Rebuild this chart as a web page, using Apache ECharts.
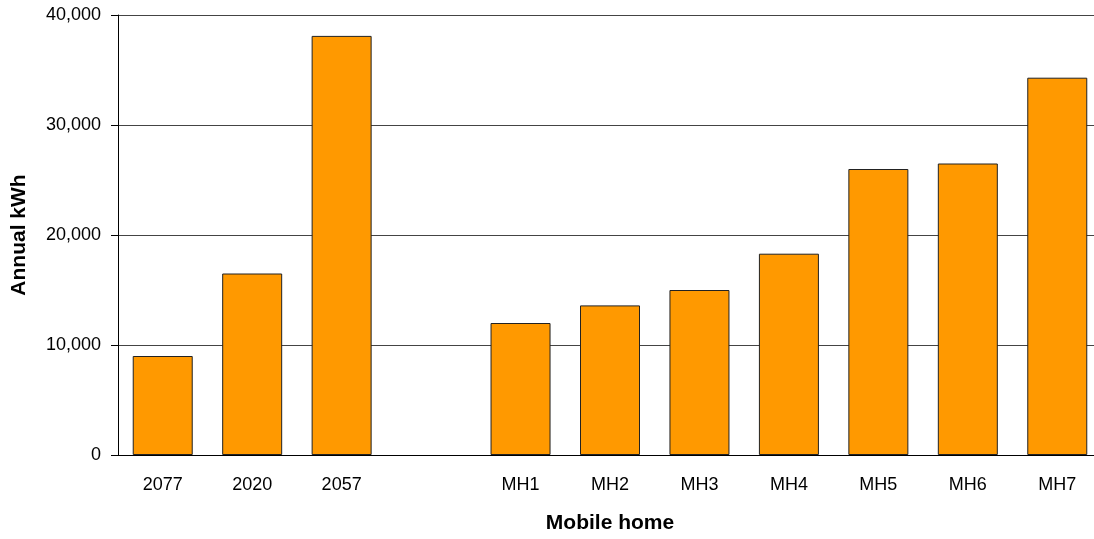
<!DOCTYPE html>
<html>
<head>
<meta charset="utf-8">
<script src="https://cdn.jsdelivr.net/npm/echarts@6/dist/echarts.min.js"></script>
<style>
  html, body { margin: 0; padding: 0; background: #fff; }
  #wrap { width: 1094px; height: 539px; overflow: hidden; position: relative; }
  /* plot runs a little past the right edge in the original, so the canvas is wider than the frame */
  #chart { width: 1102px; height: 539px; position: absolute; left: 0; top: 0; }
</style>
</head>
<body>
<div id="wrap"><div id="chart"></div></div>
<script>
  // categories, one empty slot between the two groups
  var categories = ['2077', '2020', '2057', '', 'MH1', 'MH2', 'MH3', 'MH4', 'MH5', 'MH6', 'MH7'];
  var annualKwh = [9000, 16500, 38100, null, 12000, 13600, 15000, 18300, 26000, 26500, 34300];
  var yTicks = [0, 10000, 20000, 30000, 40000];

  var chart = echarts.init(document.getElementById('chart'));
  var font = 'Liberation Sans, Arial, sans-serif';

  chart.setOption({
    backgroundColor: '#fff',
    animation: false,
    grid: { left: 118, top: 15, right: 0, height: 442 },
    xAxis: {
      type: 'category',
      data: categories,
      name: 'Mobile home',
      nameLocation: 'middle',
      nameGap: 58,
      nameTextStyle: { fontFamily: font, fontSize: 21, fontWeight: 'bold', color: '#000' },
      axisLine: { lineStyle: { color: '#000', width: 1 } },
      axisTick: { show: false },
      axisLabel: { fontFamily: font, fontSize: 18, color: '#000', margin: 21, interval: 0 }
    },
    yAxis: {
      type: 'value',
      min: yTicks[0],
      max: yTicks[yTicks.length - 1],
      interval: 10000,
      name: 'Annual kWh',
      nameLocation: 'middle',
      nameGap: 88,
      nameTextStyle: { fontFamily: font, fontSize: 21, fontWeight: 'bold', color: '#000' },
      axisLine: { show: true, lineStyle: { color: '#000', width: 1 } },
      axisTick: { show: true, length: 7, lineStyle: { color: '#000' } },
      axisLabel: {
        fontFamily: font, fontSize: 18, color: '#000', margin: 17,
        formatter: function (v) { return v.toLocaleString('en-US'); }
      },
      splitLine: { show: true, lineStyle: { color: '#444', width: 1 } }
    },
    series: [{
      type: 'bar',
      data: annualKwh,
      barWidth: 60,
      itemStyle: { color: '#FF9900', borderColor: '#222', borderWidth: 1 }
    }]
  });
</script>
</body>
</html>
